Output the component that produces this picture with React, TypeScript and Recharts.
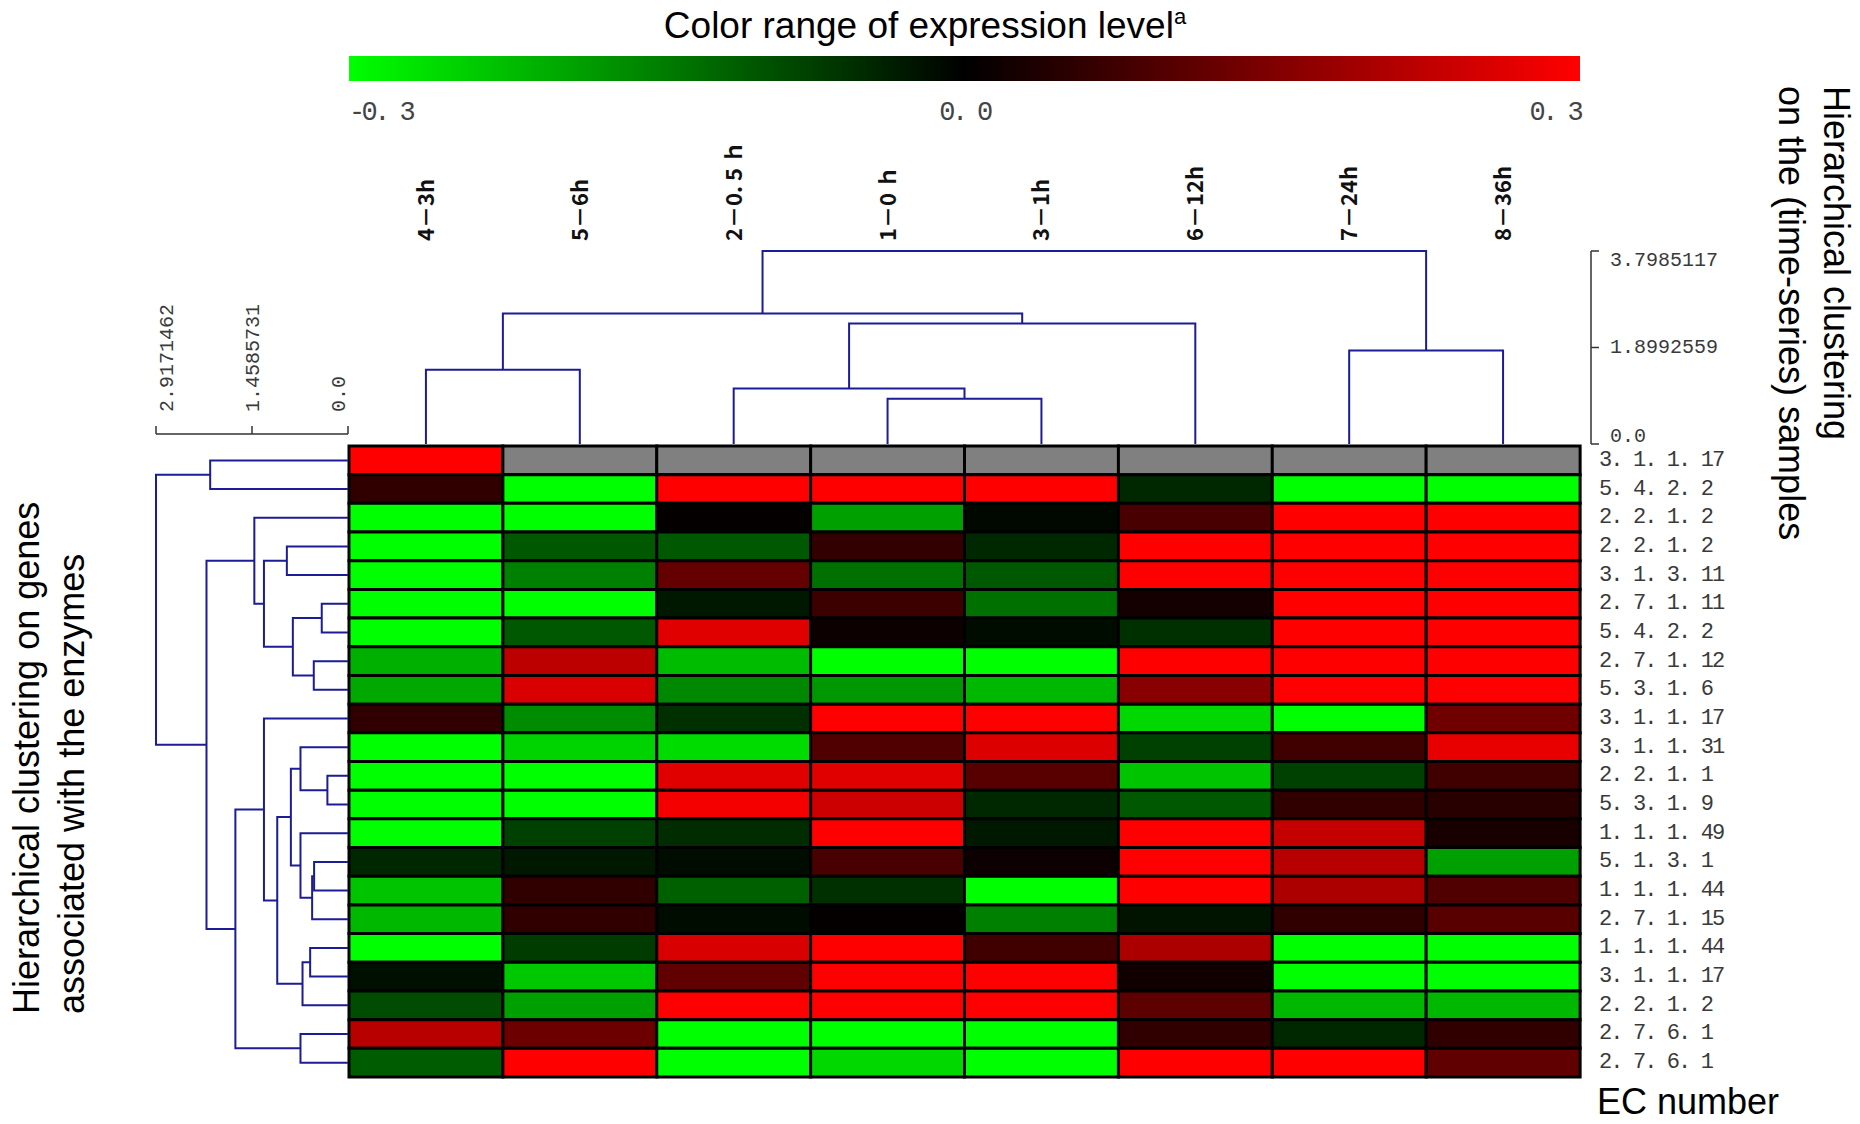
import React from 'react'
import { BarChart, Bar, Cell, XAxis, YAxis, ScatterChart, Scatter } from 'recharts'

const W = 1860
const H = 1124

// time-series samples, in dendrogram order
const sampleLabels = ['4－3h', '5－6h', '2－0. 5 ｈ', '1－0 ｈ', '3－1h', '6－12h', '7－24h', '8－36h']

// EC numbers of the genes, in dendrogram order
const ecNumbers = [
  '3. 1. 1. 17', '5. 4. 2. 2', '2. 2. 1. 2', '2. 2. 1. 2', '3. 1. 3. 11', '2. 7. 1. 11',
  '5. 4. 2. 2', '2. 7. 1. 12', '5. 3. 1. 6', '3. 1. 1. 17', '3. 1. 1. 31', '2. 2. 1. 1',
  '5. 3. 1. 9', '1. 1. 1. 49', '5. 1. 3. 1', '1. 1. 1. 44', '2. 7. 1. 15', '1. 1. 1. 44',
  '3. 1. 1. 17', '2. 2. 1. 2', '2. 7. 6. 1', '2. 7. 6. 1',
]

// expression level per gene (row) and sample (column); null = no data (grey)
const expression: (number | null)[][] = [
  [0.3, null, null, null, null, null, null, null],
  [0.056, -0.3, 0.3, 0.3, 0.3, -0.047, -0.3, -0.3],
  [-0.3, -0.3, 0.006, -0.188, -0.009, 0.085, 0.3, 0.3],
  [-0.3, -0.104, -0.104, 0.059, -0.047, 0.3, 0.3, 0.3],
  [-0.3, -0.151, 0.118, -0.132, -0.104, 0.3, 0.3, 0.3],
  [-0.3, -0.3, -0.028, 0.071, -0.132, 0.024, 0.3, 0.3],
  [-0.3, -0.104, 0.264, 0.014, -0.014, -0.056, 0.3, 0.3],
  [-0.207, 0.221, -0.221, -0.3, -0.3, 0.3, 0.3, 0.3],
  [-0.198, 0.254, -0.16, -0.179, -0.216, 0.16, 0.3, 0.3],
  [0.056, -0.165, -0.056, 0.3, 0.3, -0.254, -0.3, 0.132],
  [-0.3, -0.249, -0.259, 0.094, 0.259, -0.075, 0.075, 0.273],
  [-0.3, -0.3, 0.264, 0.264, 0.104, -0.231, -0.075, 0.075],
  [-0.3, -0.3, 0.287, 0.24, -0.047, -0.104, 0.056, 0.047],
  [-0.3, -0.075, -0.052, 0.3, -0.028, 0.3, 0.231, 0.028],
  [-0.047, -0.028, -0.014, 0.085, 0.014, 0.3, 0.216, -0.188],
  [-0.231, 0.056, -0.113, -0.056, -0.3, 0.3, 0.202, 0.094],
  [-0.216, 0.056, -0.014, 0.005, -0.151, -0.024, 0.056, 0.104],
  [-0.3, -0.071, 0.254, 0.3, 0.075, 0.202, -0.3, -0.3],
  [-0.019, -0.235, 0.113, 0.3, 0.3, 0.019, -0.3, -0.3],
  [-0.089, -0.188, 0.3, 0.3, 0.3, 0.108, -0.216, -0.216],
  [0.216, 0.127, -0.3, -0.3, -0.3, 0.056, -0.047, 0.056],
  [-0.108, 0.3, -0.3, -0.254, -0.3, 0.3, 0.3, 0.113],
]

const colorTicks = [-0.3, 0, 0.3]
const colorRange = [{ name: 'level', range: [-0.3, 0.3] }]

const sampleDistTicks = [0, 1.8992559, 3.7985117]
const geneDistTicks = [0, 1.4585731, 2.9171462]

// linkage rows: [left node, right node, height]; leaves are 0..n-1, merge k becomes node n+k
const sampleLinkage = [
  [0, 1, 1.46], [3, 4, 0.89], [2, 9, 1.09], [10, 5, 2.37],
  [8, 11, 2.57], [6, 7, 1.84], [12, 13, 3.7985117],
]
const geneLinkage = [
  [0, 1, 2.094], [3, 4, 0.929], [5, 6, 0.399], [7, 8, 0.52], [24, 25, 0.838],
  [23, 26, 1.277], [2, 27, 1.423], [11, 12, 0.313], [10, 29, 0.722], [14, 15, 0.515],
  [31, 16, 0.545], [13, 32, 0.722], [30, 33, 0.868], [17, 18, 0.575], [35, 19, 0.691],
  [34, 36, 1.075], [9, 37, 1.277], [20, 21, 0.722], [38, 39, 1.711], [28, 40, 2.15],
  [22, 41, 2.9171462],
]

const TREE_COLOR = '#1c1c94'
const MONO = 'Liberation Mono, DejaVu Sans Mono, monospace'
const SANS = 'Liberation Sans, Arial, sans-serif'

function exprColor(v: number | null) {
  if (v === null) return '#808080'
  const c = Math.round(255 * Math.min(Math.abs(v) / 0.3, 1))
  return v >= 0 ? `rgb(${c},0,0)` : `rgb(0,${c},0)`
}

// U-shaped links of a dendrogram; p = leaf-axis position, h = height
function dendroLinks(n: number, linkage: number[][]) {
  const pos = Array.from({ length: n }, (_, i) => i + 0.5)
  const ht = Array(n).fill(0)
  return linkage.map(([a, b, h]) => {
    const link = [
      { p: pos[a], h: ht[a] },
      { p: pos[a], h },
      { p: pos[b], h },
      { p: pos[b], h: ht[b] },
    ]
    pos.push((pos[a] + pos[b]) / 2)
    ht.push(h)
    return link
  })
}

const heatData = sampleLabels.map((s) => {
  const d: Record<string, any> = { sample: s }
  ecNumbers.forEach((_, i) => { d[`g${i}`] = 1 })
  return d
})

const sampleLinks = dendroLinks(sampleLabels.length, sampleLinkage).map((l) => l.map((q) => ({ x: q.p, y: q.h })))
const geneLinks = dendroLinks(ecNumbers.length, geneLinkage).map((l) => l.map((q) => ({ x: q.h, y: q.p })))

const fmtDist = (v: number) => (v === 0 ? '0.0' : String(v))

const ColorTick = ({ x, y, payload, index }: any) => {
  const anchor = index === 0 ? 'start' : index === 2 ? 'end' : 'middle'
  const txt = payload.value.toFixed(1).replace('.', '. ')
  return (
    <text x={x} y={y + 24} textAnchor={anchor} dominantBaseline="central" fontFamily={MONO}
      fontSize={27} letterSpacing={-3.6} fill="#444">
      {txt}
    </text>
  )
}

const SampleLabelTick = ({ x, y, payload }: any) => (
  <text transform={`translate(${x + 8},${y - 2}) rotate(-90)`} textAnchor="start" fontFamily="Noto Sans CJK JP"
    fontSize={22} fontWeight={600} fill="#111">
    {sampleLabels[Math.floor(payload.value)]}
  </text>
)

const SampleDistTick = ({ x, y, payload }: any) => {
  const dy = payload.value === sampleDistTicks[2] ? 9 : payload.value === 0 ? -8 : 0
  return (
    <text x={x + 9} y={y + dy} dominantBaseline="central" fontFamily={MONO} fontSize={20} fill="#3a3a3a">
      {fmtDist(payload.value)}
    </text>
  )
}

const GeneDistTick = ({ x, y, payload }: any) => {
  const dx = payload.value === geneDistTicks[2] ? 10 : payload.value === 0 ? -10 : 0
  return (
    <text transform={`translate(${x + dx + 7},${y - 12}) rotate(-90)`} textAnchor="start" fontFamily={MONO} fontSize={20} fill="#3a3a3a">
      {fmtDist(payload.value)}
    </text>
  )
}

const EcTick = ({ x, y, payload }: any) => (
  <text x={x + 11} y={y} dominantBaseline="central" fontFamily={MONO} fontSize={22} letterSpacing={-1.9} fill="#3a3a3a">
    {ecNumbers[Math.floor(payload.value)]}
  </text>
)

const layer: React.CSSProperties = { position: 'absolute', left: 0, top: 0 }

export default function App() {
  return (
    <div style={{ position: 'absolute', left: 0, top: 0, width: W, height: H, background: '#fff' }}>
      {/* colour key */}
      <div style={layer}>
        <BarChart width={W} height={140} data={colorRange} layout="vertical" barCategoryGap={0}
          margin={{ top: 56, left: 349, right: 280, bottom: 19 }}>
          <defs>
            <linearGradient id="exprGrad" x1="0" y1="0" x2="1" y2="0">
              <stop offset="0%" stopColor="#00ff00" />
              <stop offset="50%" stopColor="#000000" />
              <stop offset="100%" stopColor="#ff0000" />
            </linearGradient>
          </defs>
          <XAxis type="number" domain={[-0.3, 0.3]} ticks={colorTicks} height={40}
            axisLine={false} tickLine={false} tick={ColorTick} interval={0} />
          <YAxis type="category" dataKey="name" hide />
          <Bar dataKey="range" fill="url(#exprGrad)" isAnimationActive={false} />
        </BarChart>
      </div>

      {/* heat map */}
      <div style={layer}>
        <BarChart width={W} height={H} data={heatData} barCategoryGap={0} barGap={0}
          margin={{ top: 446, left: 349, right: 80, bottom: 47 }}>
          <XAxis dataKey="sample" hide />
          <YAxis type="number" orientation="right" domain={[0, ecNumbers.length]} reversed width={200}
            ticks={ecNumbers.map((_, i) => i + 0.5)} interval={0}
            axisLine={false} tickLine={false} tick={EcTick} />
          {ecNumbers.map((_, i) => (
            <Bar key={i} dataKey={`g${i}`} stackId="heat" stroke="#000" strokeWidth={3} isAnimationActive={false}>
              {sampleLabels.map((s, j) => (
                <Cell key={s} fill={exprColor(expression[i][j])} />
              ))}
            </Bar>
          ))}
        </BarChart>
      </div>

      {/* sample dendrogram */}
      <div style={layer}>
        <ScatterChart width={W} height={450} margin={{ top: 131, left: 349, right: 69, bottom: 6 }}>
          <XAxis type="number" dataKey="x" orientation="top" domain={[0, sampleLabels.length + 0.0715]} height={120}
            ticks={sampleLabels.map((_, i) => i + 0.5)} interval={0}
            axisLine={false} tickLine={false} tick={SampleLabelTick} />
          <YAxis type="number" dataKey="y" orientation="right" domain={[0, sampleDistTicks[2]]} width={200}
            ticks={sampleDistTicks} interval={0} tickSize={8}
            axisLine={{ stroke: '#333', strokeWidth: 1.5 }} tickLine={{ stroke: '#333', strokeWidth: 1.5 }}
            tick={SampleDistTick} />
          {sampleLinks.map((pts, k) => (
            <Scatter key={k} data={pts} stroke={TREE_COLOR} line={{ stroke: TREE_COLOR, strokeWidth: 2 }}
              shape={() => <g />} isAnimationActive={false} />
          ))}
        </ScatterChart>
      </div>

      {/* gene dendrogram */}
      <div style={layer}>
        <ScatterChart width={W} height={H} margin={{ top: 284, left: 156, right: 1512, bottom: 47 }}>
          <XAxis type="number" dataKey="x" orientation="top" domain={[0, geneDistTicks[2]]} reversed height={150}
            ticks={geneDistTicks} interval={0} tickSize={8}
            axisLine={{ stroke: '#333', strokeWidth: 1.5 }} tickLine={{ stroke: '#333', strokeWidth: 1.5 }}
            tick={GeneDistTick} />
          <YAxis type="number" dataKey="y" domain={[-0.42, ecNumbers.length]} reversed hide />
          {geneLinks.map((pts, k) => (
            <Scatter key={k} data={pts} stroke={TREE_COLOR} line={{ stroke: TREE_COLOR, strokeWidth: 2 }}
              shape={() => <g />} isAnimationActive={false} />
          ))}
        </ScatterChart>
      </div>

      {/* titles */}
      <svg width={W} height={H} style={{ ...layer, pointerEvents: 'none' }}>
        <text x={925} y={38} textAnchor="middle" fontFamily={SANS} fontSize={37} fill="#000">
          Color range of expression level<tspan fontSize={22} dy={-14}>a</tspan>
        </text>
        <g transform="translate(1824,86) rotate(90)">
          <text x={0} y={0} fontFamily={SANS} fontSize={36} fill="#000">Hierarchical clustering</text>
        </g>
        <g transform="translate(1779,86) rotate(90)">
          <text x={0} y={0} fontFamily={SANS} fontSize={36} fill="#000">on the (time-series) samples</text>
        </g>
        <g transform="translate(39,1014) rotate(-90)">
          <text x={0} y={0} fontFamily={SANS} fontSize={36} fill="#000">Hierarchical clustering on genes</text>
        </g>
        <g transform="translate(84,1014) rotate(-90)">
          <text x={0} y={0} fontFamily={SANS} fontSize={36} fill="#000">associated with the enzymes</text>
        </g>
        <text x={1597} y={1114} fontFamily={SANS} fontSize={36} fill="#000">EC number</text>
      </svg>
    </div>
  )
}
